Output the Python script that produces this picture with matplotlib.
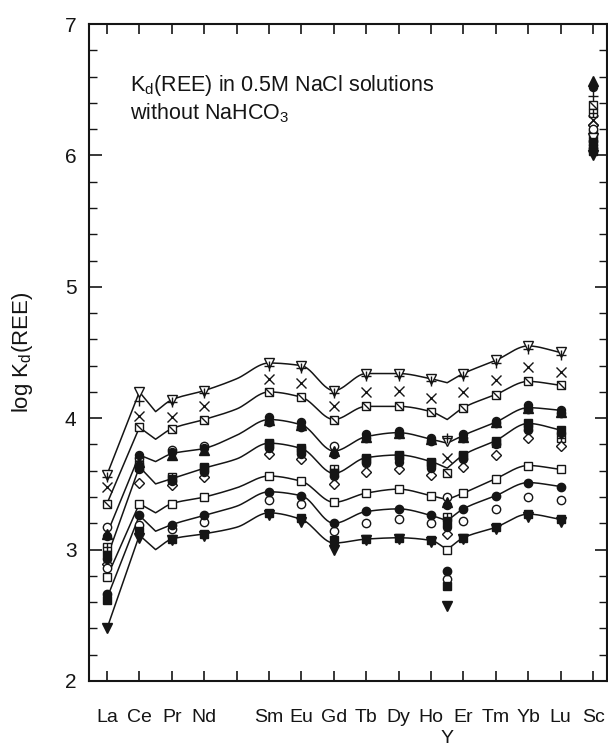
import numpy as np
import matplotlib
matplotlib.use("Agg")
import matplotlib.pyplot as plt
from matplotlib.ticker import MultipleLocator

plt.rcParams['font.family'] = ['Liberation Sans', 'DejaVu Sans']
plt.rcParams['mathtext.default'] = 'regular'

INK = '#151515'

# x axis: lanthanides in order (Pm has no data) plus Sc
elements = ['La', 'Ce', 'Pr', 'Nd', 'Pm', 'Sm', 'Eu', 'Gd', 'Tb', 'Dy', 'Ho',
            'Er', 'Tm', 'Yb', 'Lu', 'Sc']

# measured columns, Y is plotted between Ho and Er
columns = ['La', 'Ce', 'Pr', 'Nd', 'Sm', 'Eu', 'Gd', 'Tb', 'Dy', 'Ho', 'Y',
           'Er', 'Tm', 'Yb', 'Lu', 'Sc']

# log Kd values for each run, one entry per column above
tri_down_open = [3.57, 4.20, 4.14, 4.21, 4.42, 4.40, 4.21, 4.34, 4.34, 4.30, 3.83, 4.34, 4.44, 4.55, 4.50, 6.13]
plus_mark = [3.55, 4.13, 4.12, 4.19, 4.40, 4.38, 4.19, 4.32, 4.32, 4.28, 3.85, 4.32, 4.42, 4.53, 4.48, 6.45]
cross_mark = [3.48, 4.02, 4.01, 4.09, 4.30, 4.27, 4.09, 4.20, 4.21, 4.15, 3.70, 4.20, 4.29, 4.39, 4.35, 6.27]
square_slash = [3.35, 3.93, 3.92, 3.99, 4.20, 4.16, 3.99, 4.09, 4.09, 4.05, 3.58, 4.08, 4.18, 4.28, 4.25, 6.38]
circle_open_hi = [3.17, 3.70, 3.76, 3.79, 3.97, 3.93, 3.79, 3.85, 3.88, 3.83, 3.40, 3.85, 3.96, 4.07, 4.04, 6.20]
tri_up_filled = [3.12, 3.67, 3.72, 3.76, 3.99, 3.95, 3.75, 3.86, 3.89, 3.84, 3.36, 3.86, 3.97, 4.08, 4.05, 6.57]
circle_filled_hi = [3.10, 3.72, 3.74, 3.77, 4.01, 3.97, 3.73, 3.88, 3.90, 3.85, 3.34, 3.88, 3.98, 4.10, 4.06, 6.52]
square_plus = [3.02, 3.65, 3.55, 3.63, 3.80, 3.76, 3.61, 3.69, 3.71, 3.66, 3.25, 3.71, 3.81, 3.93, 3.85, 6.32]
square_filled_mid = [2.96, 3.63, 3.54, 3.62, 3.81, 3.77, 3.58, 3.70, 3.72, 3.67, 3.21, 3.72, 3.83, 3.96, 3.91, 6.10]
circle_filled_mid = [2.93, 3.61, 3.52, 3.59, 3.77, 3.73, 3.56, 3.66, 3.67, 3.62, 3.17, 3.69, 3.80, 3.91, 3.89, 6.08]
diamond_open = [2.89, 3.51, 3.49, 3.55, 3.73, 3.69, 3.50, 3.59, 3.61, 3.57, 3.12, 3.63, 3.72, 3.85, 3.79, 6.23]
square_open = [2.79, 3.35, 3.35, 3.40, 3.56, 3.52, 3.36, 3.43, 3.46, 3.41, 3.00, 3.43, 3.54, 3.64, 3.61, 6.16]
circle_open_lo = [2.86, 3.19, 3.16, 3.21, 3.38, 3.35, 3.14, 3.20, 3.23, 3.20, 2.78, 3.22, 3.31, 3.40, 3.38, 6.11]
circle_filled_lo = [2.66, 3.26, 3.19, 3.26, 3.44, 3.41, 3.20, 3.29, 3.31, 3.26, 2.84, 3.31, 3.41, 3.51, 3.48, 6.06]
square_filled_lo = [2.62, 3.14, 3.08, 3.12, 3.28, 3.24, 3.07, 3.08, 3.09, 3.07, 2.72, 3.09, 3.17, 3.27, 3.23, 6.03]
tri_down_filled = [2.40, 3.09, 3.07, 3.10, 3.26, 3.21, 3.00, 3.07, 3.08, 3.06, 2.57, 3.08, 3.16, 3.25, 3.21, 6.00]

# guide curves through the REE patterns
curve_nodes = ['La', 'Ce', 'Ce-Pr', 'Pr', 'Nd', 'Pm', 'Sm', 'Eu', 'Gd', 'Tb', 'Dy',
               'Ho', 'Y', 'Er', 'Tm', 'Yb', 'Lu']
# the curves break (sharp corner) at these nodes
corner_nodes = ['Ce', 'Ce-Pr', 'Y']
curve_1 = [3.57, 4.20, 4.05, 4.14, 4.21, 4.30, 4.42, 4.40, 4.21, 4.34, 4.34, 4.30, 4.27, 4.34, 4.44, 4.55, 4.50]
curve_2 = [3.35, 3.93, 3.84, 3.92, 3.99, 4.07, 4.20, 4.16, 3.99, 4.09, 4.09, 4.05, 3.99, 4.08, 4.18, 4.28, 4.25]
curve_3 = [3.12, 3.72, 3.67, 3.73, 3.77, 3.87, 3.99, 3.95, 3.75, 3.86, 3.89, 3.84, 3.81, 3.87, 3.97, 4.08, 4.06]
curve_4 = [2.94, 3.63, 3.50, 3.54, 3.62, 3.69, 3.81, 3.77, 3.58, 3.70, 3.72, 3.67, 3.62, 3.72, 3.83, 3.96, 3.91]
curve_5 = [2.79, 3.35, 3.28, 3.35, 3.40, 3.47, 3.56, 3.52, 3.36, 3.43, 3.46, 3.41, 3.38, 3.43, 3.54, 3.64, 3.61]
curve_6 = [2.63, 3.26, 3.14, 3.19, 3.26, 3.33, 3.44, 3.41, 3.20, 3.29, 3.31, 3.26, 3.22, 3.31, 3.41, 3.51, 3.48]
curve_7 = [2.40, 3.11, 3.00, 3.08, 3.12, 3.17, 3.28, 3.23, 3.05, 3.08, 3.09, 3.07, 3.00, 3.09, 3.17, 3.27, 3.23]


def position(name):
    if name in elements:
        return float(elements.index(name))
    if name == 'Y':
        return (elements.index('Ho') + elements.index('Er')) / 2
    a, b = name.split('-')
    return (elements.index(a) + elements.index(b)) / 2


def pchip(x, y, xs):
    x = np.asarray(x, float)
    y = np.asarray(y, float)
    h = np.diff(x)
    d = np.diff(y) / h
    m = np.zeros_like(y)
    m[0], m[-1] = d[0], d[-1]
    for k in range(1, len(x) - 1):
        if d[k - 1] * d[k] > 0:
            w1 = 2 * h[k] + h[k - 1]
            w2 = h[k] + 2 * h[k - 1]
            m[k] = (w1 + w2) / (w1 / d[k - 1] + w2 / d[k])
    idx = np.clip(np.searchsorted(x, xs) - 1, 0, len(x) - 2)
    t = (xs - x[idx]) / h[idx]
    h00 = 2 * t**3 - 3 * t**2 + 1
    h10 = t**3 - 2 * t**2 + t
    h01 = -2 * t**3 + 3 * t**2
    h11 = t**3 - t**2
    return (h00 * y[idx] + h10 * h[idx] * m[idx]
            + h01 * y[idx + 1] + h11 * h[idx] * m[idx + 1])


def smooth_curve(names, vals):
    # smooth between corners, straight into and out of each corner
    cut = [0] + [names.index(c) for c in corner_nodes] + [len(names) - 1]
    xs_all, ys_all = [], []
    for a, b in zip(cut[:-1], cut[1:]):
        x = [position(n) for n in names[a:b + 1]]
        xs = np.linspace(x[0], x[-1], 120)
        xs_all.append(xs)
        ys_all.append(pchip(x, vals[a:b + 1], xs))
    return np.concatenate(xs_all), np.concatenate(ys_all)


fig = plt.figure(figsize=(6.08, 7.49), dpi=100)
ax = fig.add_axes([89 / 608, 1 - 681 / 749, 518 / 608, 657 / 749])

for curve in [curve_1, curve_2, curve_3, curve_4, curve_5, curve_6, curve_7]:
    cxs, cys = smooth_curve(curve_nodes, curve)
    ax.plot(cxs, cys, color=INK, lw=1.1, zorder=1)

px = [position(c) for c in columns]
slash = [(-1, 1), (1, -1)]

# (values, marker, face, size)
series = [
    (square_slash, 's', 'white', 6.0),
    (square_slash, slash, 'none', 6.0),
    (square_plus, 's', 'white', 5.5),
    (square_plus, '+', 'none', 5.5),
    (square_open, 's', 'white', 6.2),
    (diamond_open, 'D', 'white', 4.8),
    (circle_open_hi, 'o', 'white', 6.0),
    (circle_open_lo, 'o', 'white', 6.0),
    (tri_down_open, 'v', 'white', 7.0),
    (plus_mark, '+', 'none', 6.5),
    (cross_mark, 'x', 'none', 6.5),
    (tri_up_filled, '^', INK, 6.5),
    (circle_filled_hi, 'o', INK, 5.8),
    (square_filled_mid, 's', INK, 5.8),
    (circle_filled_mid, 'o', INK, 5.8),
    (circle_filled_lo, 'o', INK, 6.0),
    (square_filled_lo, 's', INK, 6.3),
    (tri_down_filled, 'v', INK, 6.8),
]
for vals, mk, face, ms in series:
    ax.plot(px, vals, linestyle='none', marker=mk, markersize=ms,
            markerfacecolor=face, markeredgecolor=INK, markeredgewidth=1.0,
            color=INK, zorder=3)

ax.set_xlim(-18 / 32.4, 15 + 14 / 32.4)
ax.set_ylim(2, 7)

ax.set_xticks(range(len(elements)))
ax.set_xticklabels([e if e != 'Pm' else '' for e in elements])
ax.set_xticks([position('Y')], ['Y'], minor=True)
ax.yaxis.set_major_locator(MultipleLocator(1))
ax.yaxis.set_minor_locator(MultipleLocator(0.2))

ax.tick_params(axis='x', which='major', direction='in', top=True, length=7,
               width=1.2, labelsize=14, pad=20, colors=INK)
ax.tick_params(axis='x', which='minor', length=0, top=False, labelsize=14,
               pad=35, colors=INK)
ax.tick_params(axis='y', which='major', direction='in', right=True, length=9,
               width=1.2, labelsize=15, pad=9, colors=INK)
ax.tick_params(axis='y', which='minor', direction='in', right=True, length=5.5,
               width=1.0, colors=INK)
for sp in ax.spines.values():
    sp.set_linewidth(1.5)
    sp.set_color(INK)

ax.set_ylabel('log K$_d$(REE)', fontsize=16, color=INK, va='center')
ax.yaxis.set_label_coords(-0.129, 0.5)

ax.text(0.079, 0.925, 'K$_d$(REE) in 0.5M NaCl solutions\nwithout NaHCO$_3$',
        transform=ax.transAxes, ha='left', va='top', fontsize=15.5,
        linespacing=1.2, color=INK)

fig.savefig('out.png', dpi=100)
